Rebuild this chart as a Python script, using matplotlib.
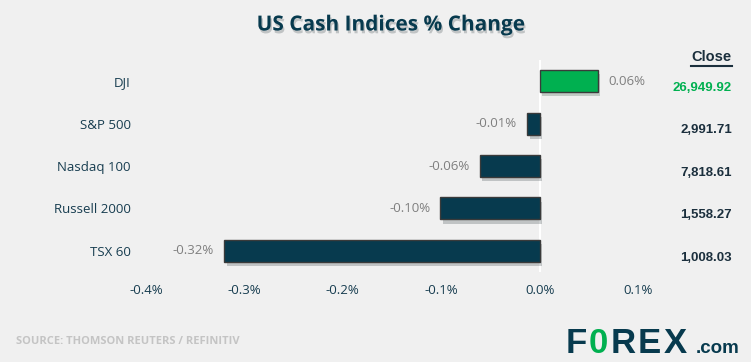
import matplotlib.pyplot as plt
import matplotlib.patheffects as pe
from matplotlib.transforms import blended_transform_factory

names = ['DJI', 'S&P 500', 'Nasdaq 100', 'Russell 2000', 'TSX 60']
changes = [0.059, -0.013, -0.061, -0.101, -0.321]
closes = ['26,949.92', '2,991.71', '7,818.61', '1,558.27', '1,008.03']
xticks = [-0.4, -0.3, -0.2, -0.1, 0.0, 0.1]

bg = '#f0f0f0'
navy = '#073a4e'
textnavy = '#173d50'
green = '#00b050'
plt.rcParams['font.family'] = ['Open Sans', 'DejaVu Sans']

fig = plt.figure(figsize=(7.51, 3.62), dpi=100, facecolor=bg)
ax = fig.add_axes([146/751, 90/362, 492/751, 212/362], facecolor=bg)

ypos = list(range(len(names)))
colors = [green if v > 0 else navy for v in changes]
bars = ax.barh(ypos, changes, height=0.52, color=colors, edgecolor='#3a3a3a', linewidth=1.0)
for b in bars:
    b.set_path_effects([pe.SimplePatchShadow(offset=(2, -3), alpha=0.2), pe.Normal()])

ax.axvline(0, color='white', lw=1.5, zorder=0)
ax.set_xlim(-0.4, 0.1)
ax.set_ylim(len(names) - 0.5, -0.5)
ax.set_xticks(xticks)
ax.set_xticklabels([f'{t:.1f}%' for t in xticks], fontsize=9.5, color=textnavy)
ax.set_yticks(ypos)
ax.set_yticklabels(names, fontsize=9.5, color=textnavy)
ax.tick_params(axis='x', length=0, pad=9)
ax.tick_params(axis='y', length=0, pad=11)
for s in ax.spines.values():
    s.set_visible(False)

for y, v in zip(ypos, changes):
    if v > 0:
        ax.text(v + 0.011, y, f'{v:.2f}%', va='center', ha='left', fontsize=9.5, color='#7f7f7f')
    else:
        ax.text(v - 0.01, y, f'{v:.2f}%', va='center', ha='right', fontsize=9.5, color='#7f7f7f')

# close column
tr = blended_transform_factory(fig.transFigure, ax.transData)
for y, c in zip(ypos, closes):
    col = green if y == 0 else '#1b2f3d'
    ax.text(732/751, y + 0.16, c, transform=tr, ha='right', va='center', fontsize=9.5,
            fontweight='bold', color=col, family='Liberation Sans')
fig.text(732/751, 1 - 57/362, 'Close', ha='right', va='center', fontsize=10.5, fontweight='bold',
         color='#1b2f3d', family='Liberation Sans')
fig.add_artist(plt.Line2D([691/751, 732/751], [1 - 66/362, 1 - 66/362], color='#1b2f3d', lw=1.5))

t = fig.text(391/751, 1 - 25/362, 'US Cash Indices % Change', ha='center', va='center',
             fontsize=15, fontweight='bold', color=navy)
t.set_path_effects([pe.withSimplePatchShadow(offset=(1, -2), alpha=0.2)])

fig.text(16/751, 1 - 341/362, 'SOURCE: THOMSON REUTERS / REFINITIV', ha='left', va='center',
         fontsize=8, fontweight='bold', color='#c4c4c4')

# logo
base = 1 - 353/362
logo = [('F', 566, navy), ('0', 589, green), ('R', 611, navy), ('E', 638, navy), ('X', 664, navy)]
for ch, px, col in logo:
    fig.text(px/751, base, ch, ha='left', va='baseline', fontsize=25, fontweight='bold',
             color=col, family='Liberation Sans')
fig.text(696/751, base, '.com', ha='left', va='baseline', fontsize=13.5, fontweight='bold', color=navy, family='Liberation Sans')

fig.savefig('out.png', dpi=100, facecolor=bg)
